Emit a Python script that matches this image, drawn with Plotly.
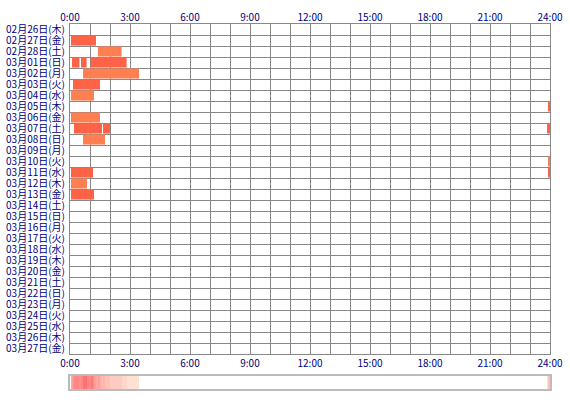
import numpy as np
import plotly.graph_objects as go

# ---- data ----
day_labels = [
    "02月26日(木)", "02月27日(金)", "02月28日(土)",
    "03月01日(日)", "03月02日(月)", "03月03日(火)", "03月04日(水)", "03月05日(木)",
    "03月06日(金)", "03月07日(土)", "03月08日(日)", "03月09日(月)", "03月10日(火)",
    "03月11日(水)", "03月12日(木)", "03月13日(金)", "03月14日(土)", "03月15日(日)",
    "03月16日(月)", "03月17日(火)", "03月18日(水)", "03月19日(木)", "03月20日(金)",
    "03月21日(土)", "03月22日(日)", "03月23日(月)", "03月24日(火)", "03月25日(水)",
    "03月26日(木)", "03月27日(金)",
]
# sleep segments (hours since 0:00)
seg_day   = [1, 2, 3, 3, 3, 4, 5, 6, 7, 8, 9, 9, 9, 10, 12, 13, 13, 14, 15]
seg_start = [0.05, 1.40, 0.10, 0.55, 1.03, 0.65, 0.15, 0.05, 23.90, 0.05, 0.20, 1.65, 23.85,
             0.65, 23.90, 0.05, 23.90, 0.05, 0.05]
seg_end   = [1.30, 2.58, 0.47, 0.83, 2.83, 3.45, 1.50, 1.20, 24.00, 1.50, 1.60, 2.00, 24.00,
             1.75, 24.00, 1.15, 24.00, 0.85, 1.20]
seg_kind  = ["a", "b", "a", "a", "a", "b", "a", "b", "a", "b", "a", "a", "a",
             "b", "b", "a", "a", "b", "a"]
tick_hours = [0, 3, 6, 9, 12, 15, 18, 21, 24]
tick_text = ["0:00", "3:00", "6:00", "9:00", "12:00", "15:00", "18:00", "21:00", "24:00"]

kind_color = {"a": "#FF6347", "b": "#FF7F50"}
NAVY = "#000080"
GRID = "#888888"
FONT = "Noto Sans CJK JP"

fig = go.Figure()

for kind in ["a", "b"]:
    idx = [i for i, k in enumerate(seg_kind) if k == kind]
    fig.add_trace(go.Bar(
        orientation="h",
        y=[seg_day[i] for i in idx],
        base=[seg_start[i] for i in idx],
        x=[seg_end[i] - seg_start[i] for i in idx],
        width=0.92,
        marker=dict(color=kind_color[kind], line=dict(width=0)),
        hoverinfo="skip", showlegend=False,
        xaxis="x", yaxis="y",
    ))

# invisible trace for top axis
fig.add_trace(go.Scatter(x=[0], y=[0], mode="markers", marker=dict(opacity=0),
                         xaxis="x2", yaxis="y", hoverinfo="skip", showlegend=False))

# density strip computed from segments
step = 0.05
centers = np.arange(step / 2, 24, step)
counts = np.zeros_like(centers)
for s, e in zip(seg_start, seg_end):
    counts += ((centers >= s) & (centers < e)).astype(float)
zmax = max(counts.max(), 1)
fig.add_trace(go.Heatmap(
    x=centers, y=[0], z=[counts], zmin=0, zmax=zmax,
    colorscale=[[0, "#ffffff"], [1 / zmax, "#ffe2d4"], [1, "#ff7070"]],
    showscale=False, hoverinfo="skip", xaxis="x3", yaxis="y3",
))

n = len(day_labels)
main_bottom = 35 / 365
strip_top = 13 / 365

fig.update_layout(
    width=570, height=400,
    margin=dict(l=70, r=20, t=24, b=11),
    paper_bgcolor="white", plot_bgcolor="white",
    barmode="overlay",
    font=dict(family=FONT, size=10, color=NAVY),
    xaxis=dict(
        domain=[0, 1], range=[0, 24], anchor="y", side="bottom",
        tickmode="array", tickvals=tick_hours, ticktext=tick_text,
        showgrid=True, gridcolor=GRID, gridwidth=1,
        minor=dict(tickmode="linear", tick0=0, dtick=1, showgrid=True, gridcolor=GRID, gridwidth=1),
        showline=True, mirror=True, linecolor=GRID, linewidth=1,
        ticks="", zeroline=False, fixedrange=True, automargin=False,
        tickfont=dict(color=NAVY, size=10),
    ),
    xaxis2=dict(
        overlaying="x", matches="x", anchor="y", side="top",
        tickmode="array", tickvals=tick_hours, ticktext=tick_text,
        showgrid=False, ticks="", zeroline=False, showline=False, automargin=False,
        tickfont=dict(color=NAVY, size=10),
    ),
    yaxis=dict(
        domain=[main_bottom, 1], range=[n - 0.5, -0.5], anchor="x",
        tickmode="array", tickvals=list(range(n)), ticktext=day_labels,
        showgrid=False,
        minor=dict(tickmode="array", tickvals=[i + 0.5 for i in range(n - 1)],
                   showgrid=True, gridcolor=GRID, gridwidth=1),
        showline=True, mirror=True, linecolor=GRID, linewidth=1,
        ticks="", zeroline=False, fixedrange=True, automargin=False,
        ticklabelstandoff=2,
        tickfont=dict(color=NAVY, size=10),
    ),
    xaxis3=dict(
        domain=[0, 1], matches="x", anchor="y3", automargin=False,
        showticklabels=False, showgrid=False, ticks="", zeroline=False,
        showline=True, mirror=True, linecolor="#bbbbbb", linewidth=2,
    ),
    yaxis3=dict(
        domain=[0, strip_top], range=[-0.5, 0.5], anchor="x3", automargin=False,
        showticklabels=False, showgrid=False, ticks="", zeroline=False,
        showline=True, mirror=True, linecolor="#bbbbbb", linewidth=2,
    ),
)

fig.write_html(
    "out.html",
    config={"displayModeBar": False},
    post_script="document.body.style.margin='0';document.body.style.padding='0';",
)
